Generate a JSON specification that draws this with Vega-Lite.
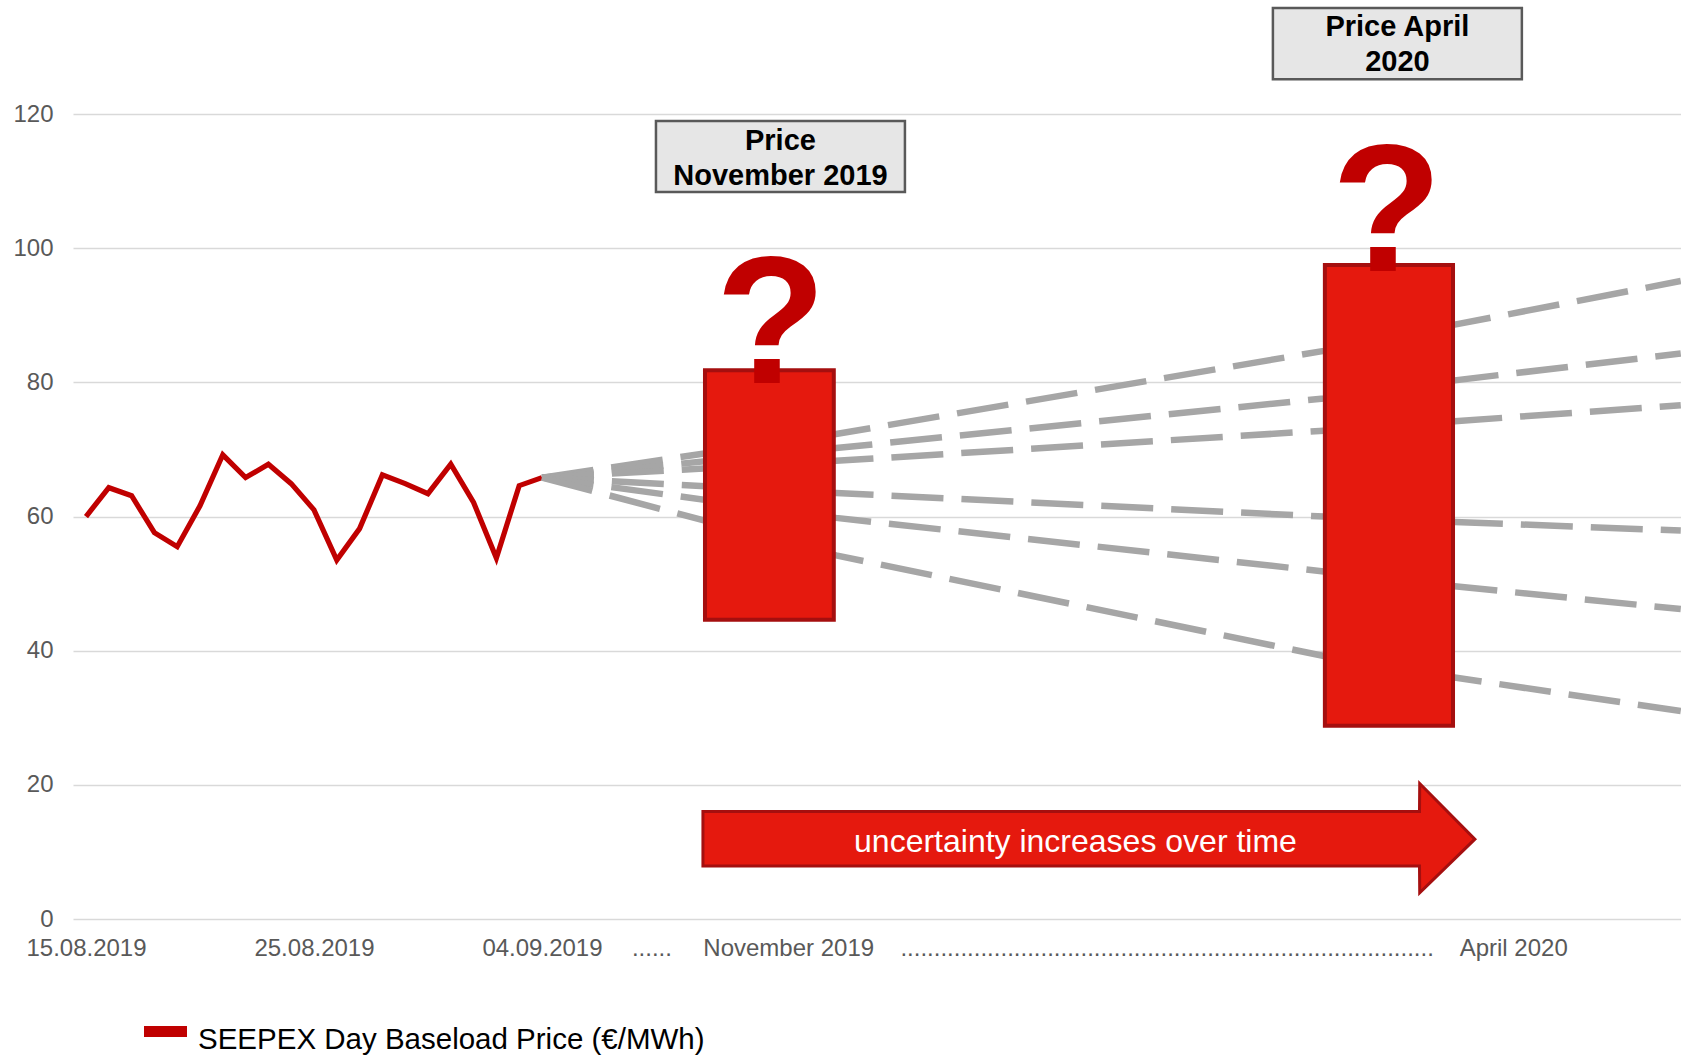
{
  "$schema": "https://vega.github.io/schema/vega-lite/v6.json",
  "width": 1608,
  "height": 919,
  "autosize": {"type": "none"},
  "padding": {"left": 73, "top": 0, "right": 0, "bottom": 138},
  "background": "white",
  "config": {"view": {"stroke": null}, "font": "Liberation Sans"},
  "datasets": {
    "price": [
      {"day": 0, "value": 60.0, "series": "SEEPEX Day Baseload Price (€/MWh)"},
      {"day": 1, "value": 64.3, "series": "SEEPEX Day Baseload Price (€/MWh)"},
      {"day": 2, "value": 63.1, "series": "SEEPEX Day Baseload Price (€/MWh)"},
      {"day": 3, "value": 57.6, "series": "SEEPEX Day Baseload Price (€/MWh)"},
      {"day": 4, "value": 55.5, "series": "SEEPEX Day Baseload Price (€/MWh)"},
      {"day": 5, "value": 61.6, "series": "SEEPEX Day Baseload Price (€/MWh)"},
      {"day": 6, "value": 69.2, "series": "SEEPEX Day Baseload Price (€/MWh)"},
      {"day": 7, "value": 65.8, "series": "SEEPEX Day Baseload Price (€/MWh)"},
      {"day": 8, "value": 67.8, "series": "SEEPEX Day Baseload Price (€/MWh)"},
      {"day": 9, "value": 64.9, "series": "SEEPEX Day Baseload Price (€/MWh)"},
      {"day": 10, "value": 61.0, "series": "SEEPEX Day Baseload Price (€/MWh)"},
      {"day": 11, "value": 53.5, "series": "SEEPEX Day Baseload Price (€/MWh)"},
      {"day": 12, "value": 58.2, "series": "SEEPEX Day Baseload Price (€/MWh)"},
      {"day": 13, "value": 66.2, "series": "SEEPEX Day Baseload Price (€/MWh)"},
      {"day": 14, "value": 64.9, "series": "SEEPEX Day Baseload Price (€/MWh)"},
      {"day": 15, "value": 63.4, "series": "SEEPEX Day Baseload Price (€/MWh)"},
      {"day": 16, "value": 67.8, "series": "SEEPEX Day Baseload Price (€/MWh)"},
      {"day": 17, "value": 62.1, "series": "SEEPEX Day Baseload Price (€/MWh)"},
      {"day": 18, "value": 53.8, "series": "SEEPEX Day Baseload Price (€/MWh)"},
      {"day": 19, "value": 64.6, "series": "SEEPEX Day Baseload Price (€/MWh)"},
      {"day": 20, "value": 65.8, "series": "SEEPEX Day Baseload Price (€/MWh)"}
    ],
    "scenarios": [
      {"scenario": "A", "day": 20, "value": 65.8},
      {"scenario": "A", "day": 32.9, "value": 72.3},
      {"scenario": "A", "day": 54.3, "value": 84.7},
      {"scenario": "A", "day": 60.03, "value": 88.6},
      {"scenario": "A", "day": 69.95, "value": 95.1},
      {"scenario": "B", "day": 20, "value": 65.8},
      {"scenario": "B", "day": 32.9, "value": 70.2},
      {"scenario": "B", "day": 54.3, "value": 77.6},
      {"scenario": "B", "day": 60.03, "value": 80.3},
      {"scenario": "B", "day": 69.95, "value": 84.3},
      {"scenario": "C", "day": 20, "value": 65.8},
      {"scenario": "C", "day": 32.9, "value": 68.3},
      {"scenario": "C", "day": 54.3, "value": 72.8},
      {"scenario": "C", "day": 60.03, "value": 74.2},
      {"scenario": "C", "day": 69.95, "value": 76.6},
      {"scenario": "D", "day": 20, "value": 65.8},
      {"scenario": "D", "day": 32.9, "value": 63.5},
      {"scenario": "D", "day": 54.3, "value": 60.0},
      {"scenario": "D", "day": 60.03, "value": 59.2},
      {"scenario": "D", "day": 69.95, "value": 57.9},
      {"scenario": "E", "day": 20, "value": 65.8},
      {"scenario": "E", "day": 32.9, "value": 59.8},
      {"scenario": "E", "day": 54.3, "value": 51.8},
      {"scenario": "E", "day": 60.03, "value": 49.6},
      {"scenario": "E", "day": 69.95, "value": 46.2},
      {"scenario": "F", "day": 20, "value": 65.8},
      {"scenario": "F", "day": 32.9, "value": 54.2},
      {"scenario": "F", "day": 54.3, "value": 39.2},
      {"scenario": "F", "day": 60.03, "value": 36.0},
      {"scenario": "F", "day": 69.95, "value": 31.0}
    ],
    "ranges": [
      {"period": "November 2019", "day": 27.15, "day2": 32.8, "value": 81.8, "value2": 44.6},
      {"period": "April 2020", "day": 54.34, "day2": 59.96, "value": 97.5, "value2": 28.8}
    ],
    "questions": [
      {"period": "November 2019", "day": 30.04, "value": 79.9, "q": "?"},
      {"period": "April 2020", "day": 57.06, "value": 96.6, "q": "?"}
    ],
    "boxes": [
      {"period": "November 2019", "day": 25.0, "day2": 35.92, "value": 118.96, "value2": 108.38},
      {"period": "April 2020", "day": 52.06, "day2": 62.98, "value": 135.8, "value2": 125.2}
    ],
    "boxText": [
      {"day": 30.46, "value": 116.0, "text": "Price\nNovember 2019"},
      {"day": 57.52, "value": 133.0, "text": "Price April\n2020"}
    ],
    "arrow": [
      {"day": 27.06, "value": 7.9, "value2": 16.03},
      {"day": 58.49, "value": 7.9, "value2": 16.03},
      {"day": 58.5, "value": 3.9, "value2": 20.2},
      {"day": 60.92, "value": 11.9, "value2": 11.9}
    ],
    "arrowText": [
      {"day": 43.4, "value": 11.55, "text": "uncertainty increases over time"}
    ]
  },
  "encoding": {
    "x": {
      "field": "day",
      "type": "quantitative",
      "scale": {"domain": [-0.57, 69.96], "nice": false, "zero": false},
      "axis": {
        "title": null,
        "values": [0, 10, 20, 24.8, 30.8, 47.4, 62.6],
        "labelExpr": "datum.value == 0 ? '15.08.2019' : datum.value == 10 ? '25.08.2019' : datum.value == 20 ? '04.09.2019' : datum.value == 24.8 ? '......' : datum.value == 30.8 ? 'November 2019' : datum.value == 47.4 ? '................................................................................' : 'April 2020'",
        "grid": false,
        "ticks": false,
        "domain": false,
        "labelFontSize": 24,
        "labelColor": "#595959",
        "labelPadding": 17,
        "labelOverlap": false,
        "labelFlush": false,
        "labelBound": false,
        "labelLimit": 1000
      }
    },
    "y": {
      "field": "value",
      "type": "quantitative",
      "scale": {"domain": [0, 137], "nice": false, "zero": false},
      "axis": {
        "title": null,
        "values": [0, 20, 40, 60, 80, 100, 120],
        "grid": true,
        "gridColor": "#D9D9D9",
        "gridWidth": 1.3,
        "ticks": false,
        "domain": false,
        "labelFontSize": 24,
        "labelColor": "#595959",
        "labelPadding": 20
      }
    }
  },
  "layer": [
    {
      "data": {"name": "price"},
      "mark": {"type": "line", "strokeWidth": 5.2, "strokeJoin": "miter"},
      "encoding": {
        "color": {
          "field": "series",
          "type": "nominal",
          "scale": {"domain": ["SEEPEX Day Baseload Price (€/MWh)"], "range": ["#C00000"]},
          "legend": {
            "title": null,
            "orient": "none",
            "legendX": 71,
            "legendY": 1010,
            "padding": 0,
            "symbolType": "M-1,-0.256H1V0.256H-1Z",
            "symbolSize": 1849,
            "labelFontSize": 29.5,
            "labelColor": "#000000",
            "labelOffset": 11,
            "labelLimit": 800,
            "encode": {
              "symbols": {"update": {"fill": {"value": "#C00000"}, "stroke": {"value": "#C00000"}, "strokeWidth": {"value": 0}, "opacity": {"value": 1}}},
              "labels": {"update": {"dy": {"value": 8}}}
            }
          }
        }
      }
    },
    {
      "data": {"name": "scenarios"},
      "mark": {"type": "line", "color": "#A6A6A6", "strokeWidth": 6.5, "strokeDash": [52, 18]},
      "encoding": {"detail": {"field": "scenario", "type": "nominal"}}
    },
    {
      "data": {"name": "ranges"},
      "mark": {"type": "rect", "fill": "#E5190E", "stroke": "#A50F0F", "strokeWidth": 4},
      "encoding": {
        "x2": {"field": "day2"},
        "y2": {"field": "value2"}
      }
    },
    {
      "data": {"name": "questions"},
      "mark": {"type": "text", "font": "Liberation Sans", "fontWeight": "bold", "fontSize": 181, "color": "#C00000", "align": "center", "baseline": "alphabetic"},
      "encoding": {"text": {"field": "q"}}
    },
    {
      "data": {"name": "boxes"},
      "mark": {"type": "rect", "fill": "#E6E6E6", "stroke": "#595959", "strokeWidth": 2.5},
      "encoding": {
        "x2": {"field": "day2"},
        "y2": {"field": "value2"}
      }
    },
    {
      "data": {"name": "boxText"},
      "mark": {"type": "text", "fontWeight": "bold", "fontSize": 29, "color": "#000000", "align": "center", "baseline": "middle", "lineBreak": "\n", "lineHeight": 35},
      "encoding": {"text": {"field": "text"}}
    },
    {
      "data": {"name": "arrow"},
      "mark": {"type": "area", "orient": "vertical", "fill": "#E5190E", "stroke": "#A50F0F", "strokeWidth": 3, "opacity": 1, "fillOpacity": 1},
      "encoding": {
        "y2": {"field": "value2"}
      }
    },
    {
      "data": {"name": "arrowText"},
      "mark": {"type": "text", "fontSize": 32, "color": "#FFFFFF", "align": "center", "baseline": "middle"},
      "encoding": {"text": {"field": "text"}}
    }
  ]
}
